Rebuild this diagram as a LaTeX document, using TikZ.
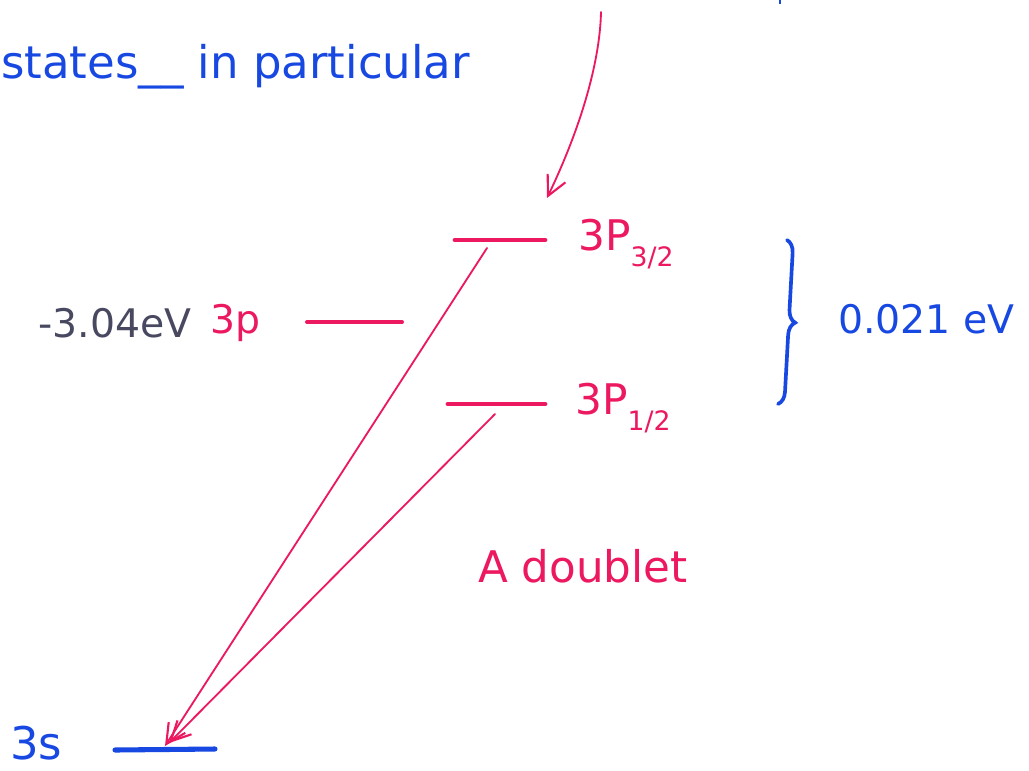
\documentclass[tikz,border=0pt]{standalone}
\usepackage{fontspec}
\setmainfont{DejaVu Sans}
\usetikzlibrary{arrows.meta,decorations.pathreplacing}
\definecolor{pred}{RGB}{236,24,96}
\definecolor{pblue}{RGB}{24,72,226}
\definecolor{pgray}{RGB}{72,72,96}
\begin{document}
\begin{tikzpicture}[x=0.025cm,y=-0.025cm,
  lvlred/.style={draw=pred,line width=3.4pt,line cap=round},
  lvlblue/.style={draw=pblue,line width=3.6pt,line cap=round},
  trans/.style={draw=pred,line width=1.3pt,line cap=round,-{Straight Barb[length=14pt,width=14pt,line width=1.5pt]}},
  lab/.style={inner sep=0pt,anchor=base west,font=\fontsize{28}{30}\selectfont}]
\useasboundingbox (0,0) rectangle (1029,770);
\fill[white] (0,0) rectangle (1029,770);
% top text
\node[lab,text=pblue,font=\fontsize{32}{34}\selectfont] (states) at (1,78) {states\_\_ in particular};
\coordinate (topmark) at (780,0);
\draw[pblue,line width=2pt] (topmark) -- ++(0,4);
% levels
\coordinate (p32l) at (455,240); \coordinate (p32r) at (545,240);
\coordinate (p12l) at (448,404); \coordinate (p12r) at (545,404);
\coordinate (p3l) at (307,322);  \coordinate (p3r) at (402,322);
\coordinate (s3l) at (115,750);  \coordinate (s3r) at (215,749);
\draw[lvlred] (p32l) -- (p32r);
\draw[lvlred] (p12l) -- (p12r);
\draw[lvlred,line width=2.8pt] (p3l) -- (p3r);
\draw[lvlblue] (s3l) -- (s3r);
% labels
\node[lab,text=pred,font=\fontsize{30}{32}\selectfont] (l32) at (578,250) {3P\raisebox{-0.4em}{\fontsize{19}{19}\selectfont 3/2}};
\node[lab,text=pred,font=\fontsize{30}{32}\selectfont] (l12) at (575,414) {3P\raisebox{-0.4em}{\fontsize{19}{19}\selectfont 1/2}};
\node[lab,text=pgray] (e3p) at (38,337) {-3.04eV};
\node[lab,text=pred] (l3p) at (210,333) {3p};
\node[lab,text=pblue,font=\fontsize{32}{34}\selectfont] (l3s) at (10,759) {3s};
\node[lab,text=pblue] (split) at (838,333) {0.021 eV};
\node[lab,text=pred,font=\fontsize{31}{33}\selectfont] (dbl) at (478,582) {A doublet};
% brace
\coordinate (btop) at (787,240); \coordinate (bbot) at (778,404);
\draw[pblue,line width=2.6pt,line cap=round,decorate,decoration={brace,amplitude=9pt}] (btop) -- (bbot);
% transitions
\coordinate (a1s) at (487,248); \coordinate (a2s) at (495,414);
\coordinate (a1e) at (165,746); \coordinate (a2e) at (169,743);
\draw[trans] (a1s) -- (a1e);
\draw[trans] (a2s) -- (a2e);
% incoming arrow from top
\coordinate (tops) at (601,12); \coordinate (tope) at (547,198);
\draw[trans] (tops) .. controls (600,60) and (582,125) .. (tope);
\end{tikzpicture}
\end{document}
